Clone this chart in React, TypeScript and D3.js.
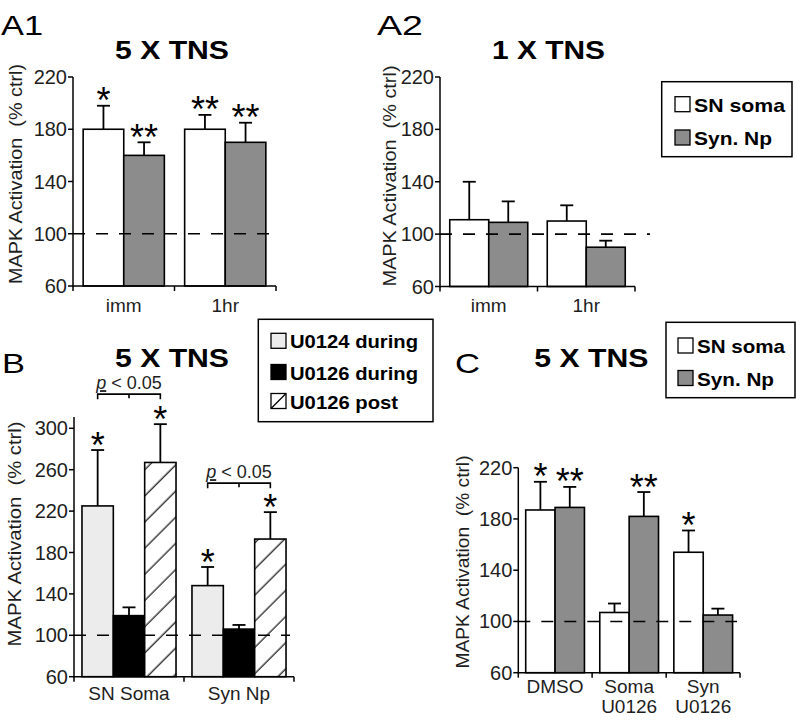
import React from 'react';
import * as d3 from 'd3';

// ---------------- DATA ----------------
const yTitleText = 'MAPK Activation  (% ctrl)';
const baselineValue = 100;

const ticksA = [60, 100, 140, 180, 220];
const ticksB = [60, 100, 140, 180, 220, 260, 300];
const ticksC = [60, 100, 140, 180, 220];

// Panel A1 (5 X TNS)
const a1Categories = [['imm'], ['1hr']];
const a1SomaValues = [180, 180];
const a1SomaErrors = [18, 11];
const a1SomaSig = ['*', '**'];
const a1NpValues = [160, 170];
const a1NpErrors = [10, 15];
const a1NpSig = ['**', '**'];

// Panel A2 (1 X TNS)
const a2Categories = [['imm'], ['1hr']];
const a2SomaValues = [111, 110];
const a2SomaErrors = [29, 12];
const a2SomaSig = ['', ''];
const a2NpValues = [109, 90];
const a2NpErrors = [16, 5];
const a2NpSig = ['', ''];

// Panel B (5 X TNS, inhibitors)
const bCategories = [['SN Soma'], ['Syn Np']];
const bU0124DuringValues = [225, 148];
const bU0124DuringErrors = [54, 18];
const bU0124DuringSig = ['*', '*'];
const bU0126DuringValues = [119, 106];
const bU0126DuringErrors = [8, 4];
const bU0126DuringSig = ['', ''];
const bU0126PostValues = [267, 193];
const bU0126PostErrors = [37, 26];
const bU0126PostSig = ['*', '*'];
const bBracketLevels = [333, 247];

// Panel C (5 X TNS, local U0126)
const cCategories = [['DMSO'], ['Soma', 'U0126'], ['Syn', 'U0126']];
const cSomaValues = [187, 107, 154];
const cSomaErrors = [22, 7, 17];
const cSomaSig = ['*', '', '*'];
const cNpValues = [189, 182, 105];
const cNpErrors = [16, 19, 5];
const cNpSig = ['**', '**', ''];

// Legend labels
const legendAC = ['SN soma', 'Syn. Np'];
const legendB = ['U0124 during', 'U0126 during', 'U0126 post'];

// ---------------- STYLE ----------------
const FONT = '"Liberation Sans", Arial, Helvetica, sans-serif';
const GREY = '#8c8c8c';
const LIGHT = '#ececec';
const TEXT = '#1e1e1e';

type Series = { key: string; values: number[]; errors: number[]; sig: string[]; fill: string };

type Cfg = {
  x0: number; x1: number; yBottom: number; yTop: number;
  domain: [number, number]; axisMax: number; ticks: number[];
  categories: string[][]; series: Series[];
  padInner: number; padOuter: number; dashEnd: number;
  labelDy: number; labelLineH: number;
  yTitle: { x: number; y: number; len: number };
  brackets?: number[];
};

function Panel({ cfg }: { cfg: Cfg }) {
  const y = d3.scaleLinear().domain(cfg.domain).range([cfg.yBottom, cfg.yTop]);
  const groupKeys = cfg.categories.map((_, i) => String(i));
  const xg = d3.scaleBand<string>().domain(groupKeys).range([cfg.x0, cfg.x1])
    .paddingInner(cfg.padInner).paddingOuter(cfg.padOuter);
  const xs = d3.scaleBand<string>().domain(cfg.series.map(s => s.key)).range([0, xg.bandwidth()]);
  const bw = xs.bandwidth();
  const axisY = y(cfg.domain[0]);

  const boundaries: number[] = [cfg.x0];
  for (let i = 0; i < groupKeys.length - 1; i++) {
    boundaries.push(((xg(groupKeys[i]) as number) + xg.bandwidth() + (xg(groupKeys[i + 1]) as number)) / 2);
  }
  boundaries.push(cfg.x1);

  const starSize = 36;
  const bars: any[] = [];
  const errs: any[] = [];
  const stars: any[] = [];
  cfg.series.forEach(s => {
    s.values.forEach((v, i) => {
      const bx = (xg(groupKeys[i]) as number) + (xs(s.key) as number);
      const cx = bx + bw / 2;
      bars.push(
        <rect key={s.key + i} x={bx} y={y(v)} width={bw} height={axisY - y(v)}
          fill={s.fill} stroke="#000" strokeWidth={1.6} />
      );
      const top = y(v + s.errors[i]);
      errs.push(
        <g key={'e' + s.key + i} stroke="#000" strokeWidth={1.8}>
          <line x1={cx} x2={cx} y1={y(v)} y2={top} />
          <line x1={cx - 6.5} x2={cx + 6.5} y1={top} y2={top} />
        </g>
      );
      if (s.sig[i]) {
        stars.push(
          <text key={'s' + s.key + i} x={cx} y={top - 13 + starSize * 0.57} textAnchor="middle"
            fontSize={starSize} fontFamily={FONT} fill="#000">{s.sig[i]}</text>
        );
      }
    });
  });

  const brackets: any[] = [];
  if (cfg.brackets) {
    cfg.brackets.forEach((lvl, i) => {
      const g0 = xg(groupKeys[i]) as number;
      const xa = g0 + (xs(cfg.series[0].key) as number) + bw / 2;
      const xm = g0 + (xs(cfg.series[1].key) as number) + bw / 2;
      const xb = g0 + (xs(cfg.series[2].key) as number) + bw / 2;
      const by = y(lvl);
      brackets.push(
        <g key={'b' + i}>
          <path d={`M${xa},${by + 5}V${by}H${xb}V${by + 5}M${xm},${by}V${by + 4}`}
            fill="none" stroke="#000" strokeWidth={1.6} />
          <text x={(xa + xb) / 2} y={by - 5} textAnchor="middle" fontSize={18} fontFamily={FONT} fill={TEXT}>
            <tspan fontStyle="italic" textDecoration="underline">p</tspan>
            <tspan> &lt; 0.05</tspan>
          </text>
        </g>
      );
    });
  }

  return (
    <g>
      {bars}
      <line x1={cfg.x0} x2={cfg.dashEnd} y1={y(baselineValue)} y2={y(baselineValue)}
        stroke="#000" strokeWidth={1.6} strokeDasharray="12,11" />
      {errs}
      {stars}
      {brackets}
      {/* y axis */}
      <line x1={cfg.x0} x2={cfg.x0} y1={axisY + 1} y2={y(cfg.axisMax)} stroke="#000" strokeWidth={1.5} />
      {cfg.ticks.map(t => (
        <g key={'t' + t}>
          <line x1={cfg.x0 - 5} x2={cfg.x0} y1={y(t)} y2={y(t)} stroke="#000" strokeWidth={1.5} />
          <text x={cfg.x0 - 6} y={y(t) + 7} textAnchor="end" fontSize={20} fontFamily={FONT} fill={TEXT}>{t}</text>
        </g>
      ))}
      {/* x axis */}
      <line x1={cfg.x0} x2={cfg.x1} y1={axisY} y2={axisY} stroke="#000" strokeWidth={1.5} />
      {boundaries.map((b, i) => (
        <line key={'xb' + i} x1={b} x2={b} y1={axisY} y2={axisY + 5} stroke="#000" strokeWidth={1.5} />
      ))}
      {cfg.categories.map((lines, i) => (
        <text key={'c' + i} x={(xg(groupKeys[i]) as number) + xg.bandwidth() / 2} y={axisY + cfg.labelDy}
          textAnchor="middle" fontSize={19} fontFamily={FONT} fill={TEXT}>
          {lines.map((l, j) => (
            <tspan key={j} x={(xg(groupKeys[i]) as number) + xg.bandwidth() / 2} dy={j === 0 ? 0 : cfg.labelLineH}>{l}</tspan>
          ))}
        </text>
      ))}
      <text transform={`translate(${cfg.yTitle.x},${cfg.yTitle.y}) rotate(-90)`} textAnchor="middle"
        dominantBaseline="central" fontSize={18.5} fontFamily={FONT} fill={TEXT}
        textLength={cfg.yTitle.len} lengthAdjust="spacingAndGlyphs" style={{ whiteSpace: 'pre' }}>
        {yTitleText}
      </text>
    </g>
  );
}

function Legend({ x, y, w, h, sx, rows, labels, fills, lens }: any) {
  return (
    <g>
      <rect x={x} y={y} width={w} height={h} fill="#fff" stroke="#000" strokeWidth={1.5} />
      {labels.map((l: string, i: number) => (
        <g key={l + i}>
          <rect x={sx} y={rows[i]} width={15} height={15} fill={fills[i] === 'hatch' ? '#fff' : fills[i]}
            stroke="#000" strokeWidth={1.3} />
          {fills[i] === 'hatch' && (
            <line x1={sx} y1={rows[i] + 15} x2={sx + 15} y2={rows[i]} stroke="#000" strokeWidth={1.2} />
          )}
          <text x={sx + 19} y={rows[i] + 15} fontSize={19} fontWeight="bold" fontFamily={FONT} fill="#000"
            textLength={lens[i]} lengthAdjust="spacingAndGlyphs">{l}</text>
        </g>
      ))}
    </g>
  );
}

function Title({ x, y, text, len }: any) {
  return (
    <text x={x} y={y} fontSize={25} fontWeight="bold" fontFamily={FONT} fill="#000"
      textLength={len} lengthAdjust="spacingAndGlyphs">{text}</text>
  );
}

function Letter({ x, y, text, len }: any) {
  return (
    <text x={x} y={y} fontSize={28} fontFamily={FONT} fill="#000"
      textLength={len} lengthAdjust="spacingAndGlyphs">{text}</text>
  );
}

export default function App() {
  const somaNp = (sv: number[], se: number[], ss: string[], nv: number[], ne: number[], ns: string[]): Series[] => [
    { key: 'soma', values: sv, errors: se, sig: ss, fill: '#fff' },
    { key: 'np', values: nv, errors: ne, sig: ns, fill: GREY },
  ];

  const a1: Cfg = {
    x0: 73, x1: 276, yBottom: 286, yTop: 77, domain: [60, 220], axisMax: 220, ticks: ticksA,
    categories: a1Categories,
    series: somaNp(a1SomaValues, a1SomaErrors, a1SomaSig, a1NpValues, a1NpErrors, a1NpSig),
    padInner: 0.2, padOuter: 0.1, dashEnd: 279, labelDy: 25.5, labelLineH: 19,
    yTitle: { x: 15, y: 174, len: 220 },
  };
  const a2: Cfg = {
    x0: 440, x1: 635, yBottom: 286.5, yTop: 77, domain: [60, 220], axisMax: 220, ticks: ticksA,
    categories: a2Categories,
    series: somaNp(a2SomaValues, a2SomaErrors, a2SomaSig, a2NpValues, a2NpErrors, a2NpSig),
    padInner: 0.2, padOuter: 0.1, dashEnd: 650, labelDy: 25, labelLineH: 19,
    yTitle: { x: 389, y: 176, len: 221 },
  };
  const b: Cfg = {
    x0: 74, x1: 294, yBottom: 676.7, yTop: 428.3, domain: [60, 300], axisMax: 311, ticks: ticksB,
    categories: bCategories,
    series: [
      { key: 'u0124d', values: bU0124DuringValues, errors: bU0124DuringErrors, sig: bU0124DuringSig, fill: LIGHT },
      { key: 'u0126d', values: bU0126DuringValues, errors: bU0126DuringErrors, sig: bU0126DuringSig, fill: '#000' },
      { key: 'u0126p', values: bU0126PostValues, errors: bU0126PostErrors, sig: bU0126PostSig, fill: 'url(#hatch)' },
    ],
    padInner: 0.145, padOuter: 0.0725, dashEnd: 290, labelDy: 23.3, labelLineH: 19,
    yTitle: { x: 14, y: 534, len: 225 },
    brackets: bBracketLevels,
  };
  const c: Cfg = {
    x0: 518.3, x1: 740, yBottom: 672.7, yTop: 467.7, domain: [60, 220], axisMax: 220, ticks: ticksC,
    categories: cCategories,
    series: somaNp(cSomaValues, cSomaErrors, cSomaSig, cNpValues, cNpErrors, cNpSig),
    padInner: 0.207, padOuter: 0.1, dashEnd: 737, labelDy: 20.6, labelLineH: 19.4,
    yTitle: { x: 462, y: 562, len: 213 },
  };

  return (
    <svg width={796} height={721} viewBox="0 0 796 721"
      style={{ position: 'absolute', left: 0, top: 0, background: '#fff' }}>
      <defs>
        <pattern id="hatch" patternUnits="userSpaceOnUse" width={18.5} height={18.5} patternTransform="rotate(45)">
          <rect width={18.5} height={18.5} fill="#fff" />
          <line x1={9} x2={9} y1={0} y2={18.5} stroke="#222" strokeWidth={1.3} />
        </pattern>
      </defs>
      <rect width={796} height={721} fill="#fff" />

      <Letter x={1} y={35} text="A1" len={42} />
      <Title x={115} y={59} text="5 X TNS" len={114} />
      <Panel cfg={a1} />

      <Letter x={377} y={35} text="A2" len={46} />
      <Title x={492} y={59} text="1 X TNS" len={113} />
      <Panel cfg={a2} />
      <Legend x={661.7} y={81.7} w={130.3} h={75} sx={675} rows={[96.7, 130]}
        labels={legendAC} fills={['#fff', GREY]} lens={[91, 78]} />

      <Letter x={2} y={373} text="B" len={23} />
      <Title x={115} y={367} text="5 X TNS" len={114} />
      <Panel cfg={b} />
      <Legend x={258.3} y={319.3} w={174.7} h={102.4} sx={271} rows={[333.3, 364.5, 393.5]}
        labels={legendB} fills={[LIGHT, '#000', 'hatch']} lens={[128, 128, 108]} />

      <Letter x={455} y={373} text="C" len={25} />
      <Title x={534.3} y={367} text="5 X TNS" len={114} />
      <Panel cfg={c} />
      <Legend x={666} y={322.3} w={129} h={75.4} sx={678} rows={[338, 370.5]}
        labels={legendAC} fills={['#fff', GREY]} lens={[88, 77]} />
    </svg>
  );
}
